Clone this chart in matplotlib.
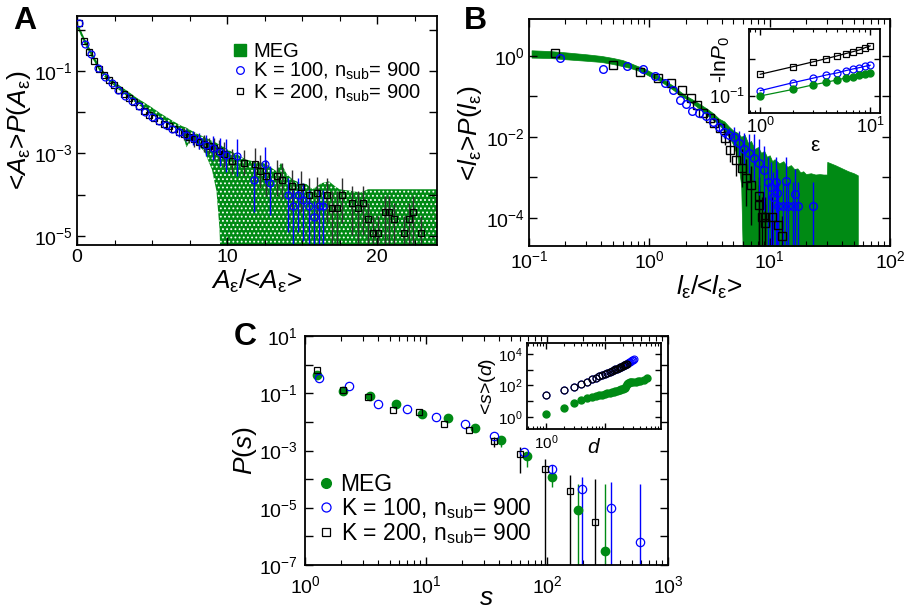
import matplotlib
matplotlib.use('Agg')
import matplotlib.pyplot as plt
from matplotlib.lines import Line2D
from matplotlib.ticker import MultipleLocator, LogLocator, NullLocator, NullFormatter
import numpy as np

plt.rcParams['font.family'] = ['Liberation Sans', 'DejaVu Sans']
plt.rcParams['mathtext.fontset'] = 'custom'
plt.rcParams['mathtext.rm'] = 'Liberation Sans'
plt.rcParams['mathtext.it'] = 'Liberation Sans:italic'
plt.rcParams['mathtext.bf'] = 'Liberation Sans:bold'
plt.rcParams['hatch.linewidth'] = 0.8

GREEN = '#008a14'
BLUE = '#0000ff'

# ---------------- panel A : area distribution ----------------
a_band_x = [0, 0.5, 1, 1.5, 2, 2.5, 3, 3.5, 4, 4.5, 5, 5.5, 6, 6.5, 7, 7.3, 7.6, 8, 8.5, 9,
            9.3, 9.5, 9.7, 10, 10.65, 11.3, 11.9, 12.4, 12.8, 13.3, 13.6, 14.0, 14.4, 14.9,
            15.3, 15.7, 16.3, 16.8, 17.2, 17.5, 18.3, 18.9, 19.4, 24]
a_band_hi = [1.58, 0.62, 0.28, 0.13, 0.078, 0.055, 0.04, 0.03, 0.022, 0.017, 0.013, 0.0097,
             0.0075, 0.0058, 0.0046, 0.0042, 0.0036, 0.003, 0.0025, 0.002, 0.0018, 0.0016,
             0.0015, 0.00126, 0.00095, 0.0007, 0.00063, 0.00059, 0.00049, 0.00037, 0.00059,
             0.00031, 0.00023, 0.00019, 0.00018, 0.000135, 0.00019, 0.00021, 0.00016,
             0.000135, 0.000123, 0.000112, 0.000135, 0.000135]
a_band_lo = [1.2, 0.45, 0.21, 0.1, 0.062, 0.043, 0.03, 0.022, 0.016, 0.012, 0.0085, 0.0068,
             0.0052, 0.0042, 0.0033, 0.0014, 0.0022, 0.0017, 0.0011, 0.0004, 0.00012, 1.5e-5,
             1e-7, 1e-7, 1e-7, 1e-7, 1e-7, 1e-7, 1e-7, 1e-7, 1e-7, 1e-7, 1e-7, 1e-7, 1e-7,
             1e-7, 1e-7, 1e-7, 1e-7, 1e-7, 1e-7, 1e-7, 1e-7, 1e-7]

a_k200_x = [0.13, 0.46, 0.8, 1.13, 1.46, 1.8, 2.13, 2.46, 2.8, 3.13, 3.46, 3.8, 4.13, 4.46,
            4.8, 5.13, 5.46, 5.8, 6.13, 6.46, 6.8, 7.13, 7.46, 7.8, 8.13, 8.46, 8.8, 9.13,
            9.46, 9.8, 10.3, 11.1, 11.85, 12.2, 12.6, 13.3, 13.65, 14.3, 14.9, 15.45, 16.0,
            16.66, 17.0, 17.3, 17.65, 18.3, 18.7, 19.06, 19.4, 19.7, 20.05, 20.5, 20.8, 21.1,
            21.8, 22.1, 22.4, 22.9]
a_k200_y = [1.45, 0.525, 0.295, 0.178, 0.112, 0.0794, 0.0603, 0.0468, 0.0347, 0.0275, 0.0224,
            0.0178, 0.0138, 0.0107, 0.0087, 0.00724, 0.00603, 0.00525, 0.00457, 0.0038,
            0.00331, 0.00288, 0.00251, 0.00219, 0.00191, 0.0017, 0.00151, 0.00132, 0.00115,
            0.00095, 6.5e-4, 5.9e-4, 5.4e-4, 3.7e-4, 2.8e-4, 2.8e-4, 2.3e-4, 1.6e-4, 1.5e-4,
            1.0e-4, 1.1e-4, 1.0e-4, 4.8e-5, 4.8e-5, 1.0e-4, 6.3e-5, 4.8e-5, 6.3e-5, 2.5e-5,
            1.2e-5, 1.2e-5, 3.8e-5, 3.8e-5, 2.5e-5, 1.2e-5, 2.5e-5, 3.8e-5, 1.2e-5]
a_k200_err = [1] * 21 + [1.4, 1.4, 1.5, 1.5, 1.6, 1.6, 1.8, 1.8, 2.0,
                         2, 2, 2.5, 2.5, 3, 3, 3, 4, 4, 5, 5, 5, 8, 8, 5, 6, 8, 6, 10, 15,
                         15, 10, 10, 10, 15, 10, 10, 15]

a_k100_x = [0.13, 0.55, 0.95, 1.4, 1.85, 2.3, 2.75, 3.2, 3.65, 4.1, 4.55, 5.0, 5.45, 5.9, 6.35,
            6.8, 7.25, 7.7, 8.15, 8.6, 9.05, 9.5, 9.95, 10.65, 11.8, 12.5, 12.85, 14.05, 14.4,
            14.7, 15.06, 15.45, 15.78, 16.1, 16.4]
a_k100_y = [1.45, 0.457, 0.251, 0.117, 0.0708, 0.0501, 0.0347, 0.0251, 0.0191, 0.0141, 0.01,
            0.00759, 0.00603, 0.00501, 0.00398, 0.00331, 0.00275, 0.00234, 0.002, 0.00158,
            0.00135, 0.0011, 0.00089, 8.7e-4, 2.3e-4, 5.6e-4, 1.95e-4, 1.0e-4, 5.2e-5, 1.0e-4,
            7.6e-5, 5.2e-5, 2.8e-5, 5.2e-5, 5.2e-5]
a_k100_err = [1] * 15 + [1.3, 1.4, 1.5, 1.6, 1.8, 2, 2.2, 2.5,
                         3, 6, 3, 6, 8, 15, 8, 10, 15, 10, 12, 12]

# ---------------- panel B : length distribution ----------------
b_band_x = [0.105, 0.15, 0.2, 0.3, 0.4, 0.5, 0.6, 0.7, 0.8, 0.9, 1.0, 1.2, 1.4, 1.6, 1.8, 2.0,
            2.3, 2.6, 3.0, 3.4, 3.8, 4.2, 4.6, 5.0, 5.4, 5.8, 6.2, 6.6, 7.0, 7.5, 8.0, 8.5,
            9.0, 9.5, 10, 10.5, 11, 12, 13, 14, 15, 16, 17, 18, 19, 20, 22, 24, 26, 28,
            29.9, 30.1, 35, 40, 45, 50, 54]
b_band_hi = [1.38, 1.32, 1.23, 1.1, 1.0, 0.89, 0.79, 0.66, 0.56, 0.5, 0.42, 0.32, 0.23, 0.178,
             0.132, 0.105, 0.083, 0.066, 0.05, 0.038, 0.028, 0.024, 0.0178, 0.0141, 0.0126,
             0.01, 0.0112, 0.0071, 0.0079, 0.005, 0.0056, 0.004, 0.0045, 0.0032, 0.0035,
             0.0025, 0.0028, 0.0022, 0.0025, 0.0018, 0.002, 0.0016, 0.00166, 0.00132,
             0.00141, 0.0012, 0.00126, 0.00117, 0.0012, 0.00117, 0.00117, 0.0024, 0.002,
             0.00166, 0.00141, 0.00126, 0.00112]
b_band_lo = [0.91, 0.89, 0.83, 0.76, 0.71, 0.63, 0.56, 0.5, 0.44, 0.38, 0.32, 0.25, 0.186,
             0.141, 0.105, 0.089, 0.066, 0.05, 0.035, 0.026, 0.02, 0.0141, 0.01, 0.0063,
             0.0032, 0.00063, 1e-7, 1e-7, 1e-7, 1e-7, 1e-7, 1e-7, 1e-7, 1e-7, 1e-7, 1e-7,
             1e-7, 1e-7, 1e-7, 1e-7, 1e-7, 1e-7, 1e-7, 1e-7, 1e-7, 1e-7, 1e-7, 1e-7, 1e-7,
             1e-7, 1e-7, 1e-7, 1e-7, 1e-7, 1e-7, 1e-7, 1e-7]

b_k200_x = [0.166, 0.5, 0.84, 1.17, 1.52, 1.86, 2.2, 2.5, 2.81, 3.18, 3.47, 3.86, 4.25, 4.68,
            5.3, 5.85, 6.4, 7.0, 8.1, 8.1, 8.6, 9.2, 10.4, 9.2, 11.8, 12.6]
b_k200_y = [1.19, 0.6, 0.41, 0.28, 0.21, 0.145, 0.093, 0.062, 0.039, 0.029, 0.022, 0.0162,
            0.0093, 0.0048, 0.0027, 0.0017, 0.00095, 0.00065, 0.00034, 0.00021, 0.000107,
            0.000107, 0.000107, 7.4e-5, 6.8e-5, 3.6e-5]
b_k200_err = [1] * 12 + [1.5, 2, 2.5, 3, 5, 10, 100, 100, 100, 100, 100, 100, 100, 100]

b_k100_x = [0.18, 0.41, 0.65, 0.88, 1.11, 1.35, 1.58, 1.8, 2.0, 2.25, 2.6, 2.95, 3.4, 3.8, 4.2,
            4.6, 5.1, 5.6, 6.1, 6.7, 7.4, 8.2, 9.0, 9.6, 10.2, 11.2, 13.8, 11.5, 16.2, 10.6,
            11.8, 12.8, 14.1, 15.5, 17.1, 23.1]
b_k100_y = [0.91, 0.48, 0.55, 0.48, 0.32, 0.22, 0.145, 0.081, 0.065, 0.044, 0.038, 0.032,
            0.0234, 0.0178, 0.0132, 0.011, 0.01, 0.0069, 0.0051, 0.0039, 0.003, 0.0022,
            0.0015, 0.00078, 0.00059, 0.00078, 0.00079, 0.00041, 0.00039, 0.00033, 0.00019,
            0.00019, 0.00019, 0.00019, 0.00019, 0.00019]
b_k100_err = [1] * 13 + [1.3, 1.4, 1.5, 1.8, 2, 2.5, 3, 4, 6, 10] + [100] * 13

# inset B : -ln P0 vs epsilon
eps = [1, 2, 3, 4, 5, 6, 7, 8, 9, 10]
lnp0_k200 = [0.384, 0.614, 0.816, 1.0, 1.18, 1.36, 1.53, 1.70, 1.95, 2.17]
lnp0_k100 = [0.141, 0.231, 0.301, 0.368, 0.417, 0.48, 0.532, 0.577, 0.625, 0.665]
lnp0_meg = [0.102, 0.153, 0.2, 0.236, 0.272, 0.307, 0.333, 0.361, 0.392, 0.408]

# ---------------- panel C : avalanche sizes ----------------
c_meg_s = [1.26, 2.08, 3.45, 5.66, 9.35, 15.3, 25.2, 41.5, 68.4, 111, 182, 300]
c_meg_p = [0.42, 0.117, 0.083, 0.041, 0.0195, 0.0134, 0.0059, 0.0023, 6.3e-4, 1.17e-4,
           8.5e-6, 3.2e-7]
c_meg_lo = [0.42, 0.117, 0.083, 0.041, 0.0195, 0.0134, 0.0059, 1.35e-3, 2.7e-4, 5.4e-5, 0, 0]
c_meg_hi = [0.42, 0.117, 0.083, 0.041, 0.0195, 0.0134, 0.0059, 0.0023, 6.3e-4, 1.6e-4,
            6.7e-5, 6.7e-5]

c_k100_s = [1.31, 2.30, 4.0, 6.94, 12.1, 21.1, 36.4, 64.1, 111, 194, 336, 585]
c_k100_p = [0.34, 0.175, 0.0427, 0.0276, 0.0145, 0.0081, 0.0031, 8.9e-4, 2.35e-4, 4.7e-5,
            9.5e-6, 6.5e-7]
c_k100_lo = [0.34, 0.175, 0.0427, 0.0276, 0.0145, 0.0081, 0.0031, 8.9e-4, 9e-5, 0, 0, 0]
c_k100_hi = [0.34, 0.175, 0.0427, 0.0276, 0.0145, 0.0081, 0.0031, 8.9e-4, 3.1e-4, 1.2e-4,
             8e-5, 6.7e-5]

c_k200_s = [1.26, 2.05, 3.34, 5.38, 8.72, 14.0, 22.6, 36.4, 59.4, 96.2, 155, 251]
c_k200_p = [0.63, 0.13, 0.0766, 0.0255, 0.0229, 0.0087, 0.005, 0.0022, 7.4e-4, 2.2e-4,
            4.0e-5, 3.2e-6]
c_k200_lo = [0.63, 0.13, 0.0766, 0.0255, 0.0229, 0.0087, 0.005, 1.35e-3, 1.66e-4, 0, 0, 0]
c_k200_hi = [0.63, 0.13, 0.0766, 0.0255, 0.0229, 0.0087, 0.005, 3e-3, 1.35e-3, 5.2e-4,
             1.4e-4, 9.8e-5]

# inset C : <s>(d)
d_meg = [1, 2, 3, 4, 5, 6, 7, 8, 9, 10, 11, 12, 13, 14, 15, 16, 17, 18, 19, 20, 21, 22, 23,
         24, 25, 26, 27, 28, 30, 33, 36, 39, 45, 51]
s_meg = [1.45, 3.9, 7.4, 12, 15, 18, 21, 23, 26, 29, 31, 34, 37, 40, 42, 45, 48, 52, 56, 60,
         64, 69, 90, 120, 140, 150, 155, 160, 165, 175, 185, 192, 230, 277]
d_k200 = list(range(1, 25))
s_k200 = [24, 52, 83, 126, 174, 254, 303, 378, 459, 546, 640, 740, 845, 955, 1070, 1190,
          1320, 1450, 1590, 1730, 1880, 2040, 2200, 2360]
d_k100 = list(range(1, 32))
s_k100 = [24, 52, 83, 126, 174, 250, 300, 375, 455, 540, 635, 735, 840, 950, 1065, 1185,
          1315, 1450, 1590, 1740, 1900, 2070, 2250, 2450, 2700, 3000, 3300, 3600, 3900,
          4200, 4500]

W, H = 909, 609
fig = plt.figure(figsize=(W / 100, H / 100), dpi=100)

TICK = 14
LABEL = 19


def px_axes(l, t, r, b):
    return fig.add_axes([l / W, 1 - b / H, (r - l) / W, (b - t) / H])


def style(ax, size):
    ax.tick_params(which='both', direction='in', top=True, right=True, labelsize=size, pad=3)
    ax.tick_params(which='major', length=6, width=1.0)
    ax.tick_params(which='minor', length=3.5, width=0.8)
    for sp in ax.spines.values():
        sp.set_linewidth(1.3)


def decade_yticks(ax, exps, labelled):
    ax.set_yticks([10.0 ** e for e in exps])
    ax.set_yticklabels([r'$10^{%d}$' % e if e in labelled else '' for e in exps])
    ax.yaxis.set_minor_locator(NullLocator())


def log_xticks(ax, exps, labelled):
    ax.set_xticks([10.0 ** e for e in exps])
    ax.set_xticklabels([r'$10^{%d}$' % e if e in labelled else '' for e in exps])
    ax.xaxis.set_minor_locator(LogLocator(base=10, subs=np.arange(2, 10)))
    ax.xaxis.set_minor_formatter(NullFormatter())


def errbars(ax, x, y, f, color, up_cap=3.0):
    y = np.array(y, float)
    f = np.array(f, float)
    lo = y - y / f
    hi = y * np.minimum(f, up_cap) - y
    ax.errorbar(x, y, yerr=[lo, hi], fmt='none', ecolor=color, elinewidth=1.0, zorder=2)


eps_lbl = r'\mathrm{\varepsilon}'
legend_labels = ['MEG', r'K = 100, n$_{\rm sub}$= 900', r'K = 200, n$_{\rm sub}$= 900']

# ---- A ----
ax = px_axes(77, 16, 437, 245)
ax.set_yscale('log')
ax.fill_between(a_band_x, a_band_lo, a_band_hi, facecolor=GREEN, edgecolor='white',
                hatch='....', linewidth=0, zorder=1)
errbars(ax, a_k200_x, a_k200_y, a_k200_err, '#303030', up_cap=2.5)
errbars(ax, a_k100_x, a_k100_y, a_k100_err, BLUE, up_cap=2.5)
ax.plot(a_k200_x, a_k200_y, 's', ms=4.5, mfc='none', mec='black', mew=0.9, zorder=3)
ax.plot(a_k100_x, a_k100_y, 'o', ms=5, mfc='none', mec=BLUE, mew=0.9, zorder=4)
ax.set_xlim(0, 24)
ax.set_ylim(6e-6, 2.15)
ax.xaxis.set_major_locator(MultipleLocator(10))
ax.xaxis.set_minor_locator(MultipleLocator(2.5))
decade_yticks(ax, [0, -1, -2, -3, -4, -5], [-1, -3, -5])
style(ax, TICK)
ax.set_xlabel(r'$A_{%s}$/<$A_{%s}$>' % (eps_lbl, eps_lbl), fontsize=LABEL, labelpad=1)
ax.set_ylabel(r'<$A_{%s}$>$P$($A_{%s}$)' % (eps_lbl, eps_lbl), fontsize=LABEL, labelpad=1)
hA = [Line2D([], [], marker='s', ls='none', color=GREEN, ms=9),
      Line2D([], [], marker='o', ls='none', mfc='none', mec=BLUE, ms=5.5, mew=0.9),
      Line2D([], [], marker='s', ls='none', mfc='none', mec='black', ms=5, mew=0.9)]
ax.legend(hA, legend_labels, loc='upper left', bbox_to_anchor=(0.4, 0.93), frameon=False,
          fontsize=14.5, labelspacing=0.0, handletextpad=0.2, handlelength=0.9, borderpad=0)

# ---- B ----
ax = px_axes(529, 19, 890, 246)
ax.set_xscale('log')
ax.set_yscale('log')
ax.fill_between(b_band_x, b_band_lo, b_band_hi, facecolor=GREEN, edgecolor=GREEN,
                linewidth=0.5, zorder=1)
errbars(ax, b_k200_x, b_k200_y, b_k200_err, 'black', up_cap=3)
errbars(ax, b_k100_x, b_k100_y, b_k100_err, BLUE, up_cap=4)
ax.plot(b_k200_x, b_k200_y, 's', ms=6, mfc='none', mec='black', mew=1.0, zorder=3)
ax.plot(b_k100_x, b_k100_y, 'o', ms=5.5, mfc='none', mec=BLUE, mew=1.0, zorder=4)
ax.set_xlim(0.1, 100)
ax.set_ylim(2e-5, 8.2)
log_xticks(ax, [-1, 0, 1, 2], [-1, 0, 1, 2])
decade_yticks(ax, [0, -1, -2, -3, -4], [0, -2, -4])
style(ax, TICK)
ax.set_xlabel(r'$l_{%s}$/<$l_{%s}$>' % (eps_lbl, eps_lbl), fontsize=LABEL, labelpad=1)
ax.set_ylabel(r'<$l_{%s}$>$P$($l_{%s}$)' % (eps_lbl, eps_lbl), fontsize=LABEL, labelpad=1)

# inset B
ai = px_axes(749, 29, 880, 113)
ai.set_xscale('log')
ai.set_yscale('log')
ai.plot(eps, lnp0_k200, 's-', color='black', ms=4.5, mfc='none', mew=0.9, lw=0.9)
ai.plot(eps, lnp0_k100, 'o-', color=BLUE, ms=5, mfc='none', mew=0.9, lw=0.9)
ai.plot(eps, lnp0_meg, 'o-', color=GREEN, ms=5, lw=0.9)
ai.set_xlim(0.79, 12.3)
ai.set_ylim(0.036, 6.1)
log_xticks(ai, [0, 1], [0, 1])
decade_yticks(ai, [-1, 0], [-1])
style(ai, 13)
ai.tick_params(which='major', length=4)
ai.tick_params(which='minor', length=2.5)
ai.set_xlabel('ε', fontsize=15, labelpad=-1)
ai.set_ylabel(r'-ln$P_0$', fontsize=15, labelpad=0)
ai.yaxis.set_label_coords(-0.13, 0.64)

# ---- C ----
ax = px_axes(305, 336, 668, 565)
ax.set_xscale('log')
ax.set_yscale('log')
for s, p, lo, hi, col in [(c_meg_s, c_meg_p, c_meg_lo, c_meg_hi, GREEN),
                          (c_k100_s, c_k100_p, c_k100_lo, c_k100_hi, BLUE),
                          (c_k200_s, c_k200_p, c_k200_lo, c_k200_hi, 'black')]:
    p = np.array(p)
    ax.errorbar(s, p, yerr=[p - np.array(lo), np.array(hi) - p], fmt='none', ecolor=col,
                elinewidth=1.0, zorder=2)
ax.plot(c_meg_s, c_meg_p, 'o', ms=6, color=GREEN, zorder=3)
ax.plot(c_k100_s, c_k100_p, 'o', ms=6, mfc='none', mec=BLUE, mew=0.9, zorder=4)
ax.plot(c_k200_s, c_k200_p, 's', ms=5, mfc='none', mec='black', mew=0.9, zorder=5)
ax.set_xlim(1, 1000)
ax.set_ylim(1e-7, 10)
log_xticks(ax, [0, 1, 2, 3], [0, 1, 2, 3])
decade_yticks(ax, [1, 0, -1, -2, -3, -4, -5, -6, -7], [1, -1, -3, -5, -7])
style(ax, TICK)
ax.tick_params(axis='x', which='major', pad=7)
ax.tick_params(axis='y', which='major', pad=5)
ax.set_xlabel(r'$s$', fontsize=LABEL, labelpad=-8)
ax.set_ylabel(r'$P(s)$', fontsize=LABEL, labelpad=0)
hC = [Line2D([], [], marker='o', ls='none', color=GREEN, ms=7),
      Line2D([], [], marker='o', ls='none', mfc='none', mec=BLUE, ms=6.5, mew=0.9),
      Line2D([], [], marker='s', ls='none', mfc='none', mec='black', ms=5.5, mew=0.9)]
ax.legend(hC, legend_labels, loc='lower left', bbox_to_anchor=(0.0, 0.035), frameon=False,
          fontsize=16.5, labelspacing=0.0, handletextpad=0.25, handlelength=0.8,
          borderpad=0)

# inset C
ai = px_axes(527, 343, 661, 429)
ai.set_xscale('log')
ai.set_yscale('log')
ai.plot(d_meg, s_meg, 'o', ms=5, color=GREEN)
ai.plot(d_k100, s_k100, 'o', ms=5, mfc='none', mec=BLUE, mew=0.8)
ai.plot(d_k200, s_k200, 'o', ms=5, mfc='none', mec='black', mew=0.8)
ai.set_xlim(0.48, 89)
ai.set_ylim(0.17, 5e4)
log_xticks(ai, [0, 1], [0])
decade_yticks(ai, [0, 1, 2, 3, 4], [0, 2, 4])
style(ai, 11)
ai.tick_params(which='major', length=4)
ai.tick_params(which='minor', length=2.5)
ai.set_xlabel(r'$d$', fontsize=15)
ai.xaxis.set_label_coords(0.5, -0.1, transform=ai.transAxes)
ai.xaxis.label.set_va('top')
ai.set_ylabel(r'<$s$>($d$)', fontsize=14, labelpad=0)

# panel letters
fig.text(13 / W, 1 - 6 / H, 'A', fontsize=23, fontweight='bold', va='top')
fig.text(464 / W, 1 - 6 / H, 'B', fontsize=23, fontweight='bold', va='top')
fig.text(234 / W, 1 - 322 / H, 'C', fontsize=23, fontweight='bold', va='top')

fig.savefig('out.png', dpi=100)
